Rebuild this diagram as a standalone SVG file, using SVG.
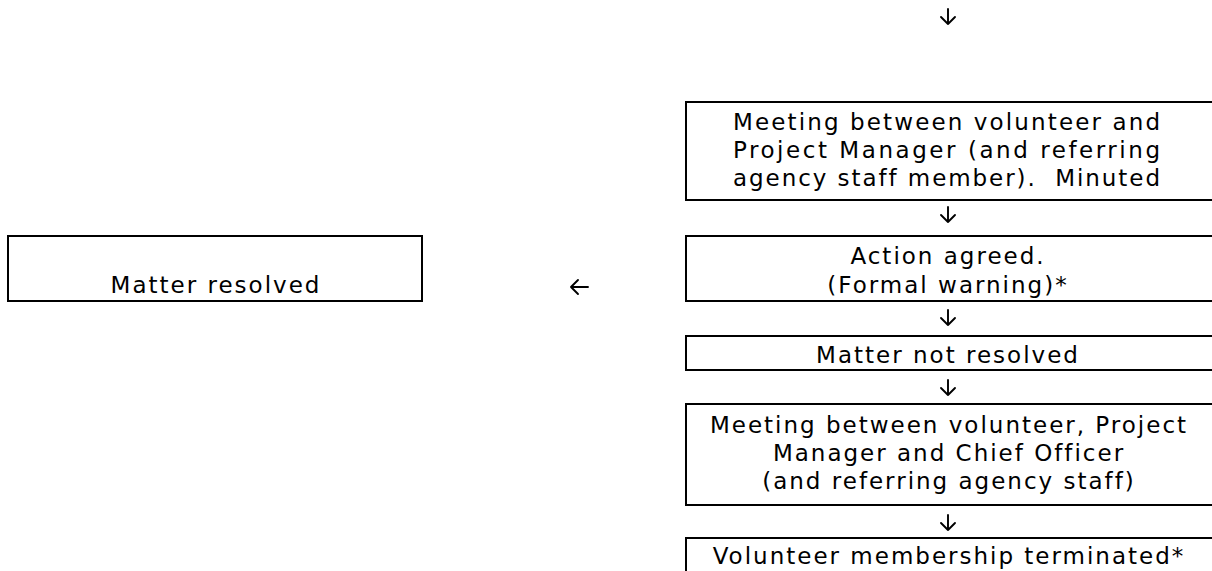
<svg xmlns="http://www.w3.org/2000/svg" width="1212" height="571" viewBox="0 0 1212 571">
<style>
.box{fill:#fff;stroke:#000;stroke-width:2}
.t{font-family:"DejaVu Sans",Verdana,sans-serif;font-size:23px;letter-spacing:2px;fill:#000;text-anchor:middle}
.j{text-anchor:start}
.arr{fill:none;stroke:#000;stroke-width:1.9;stroke-linecap:round;stroke-linejoin:round}
</style>
<rect width="1212" height="571" fill="#fff"/>
<g id="connectors">
<path class="arr" d="M948 9V24M941 17L948 24L955 17"/>
<path class="arr" d="M948 207V222M941 215L948 222L955 215"/>
<path class="arr" d="M948 310V325M941 318L948 325L955 318"/>
<path class="arr" d="M948 380V395M941 388L948 395L955 388"/>
<path class="arr" d="M948 515V530M941 523L948 530L955 523"/>
<path class="arr" d="M571 287H588M578 280L571 287L578 294"/>
</g>
<g id="n1"><rect class="box" x="686" y="102" width="560" height="98"/>
<text class="t j" x="733" y="130" textLength="429" lengthAdjust="spacing">Meeting between volunteer and</text>
<text class="t j" x="733" y="158" textLength="429" lengthAdjust="spacing">Project Manager (and referring</text>
<text class="t j" x="733" y="186" textLength="429" lengthAdjust="spacing">agency staff member).&#160; Minuted</text></g>
<g id="n2"><rect class="box" x="686" y="236" width="560" height="65"/>
<text class="t" x="948" y="264">Action agreed.</text>
<text class="t" x="948" y="293">(Formal warning)*</text></g>
<g id="n3"><rect class="box" x="686" y="336" width="560" height="34"/>
<text class="t" x="948" y="363">Matter not resolved</text></g>
<g id="n4"><rect class="box" x="686" y="404" width="560" height="101"/>
<text class="t" x="949" y="433">Meeting between volunteer, Project</text>
<text class="t" x="949" y="461">Manager and Chief Officer</text>
<text class="t" x="949" y="489">(and referring agency staff)</text></g>
<g id="n5"><rect class="box" x="686" y="538" width="560" height="60"/>
<text class="t" x="949" y="564">Volunteer membership terminated*</text></g>
<g id="n6"><rect class="box" x="8" y="236" width="414" height="65"/>
<text class="t" x="216" y="293">Matter resolved</text></g>
</svg>
